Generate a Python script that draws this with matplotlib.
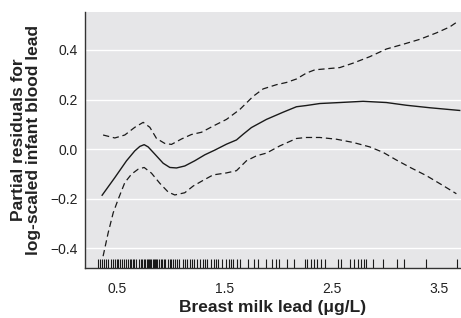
import matplotlib
matplotlib.use("Agg")
import matplotlib.pyplot as plt
import matplotlib.transforms as mtransforms

plt.rcParams['font.family'] = ['Liberation Sans Narrow', 'Liberation Sans', 'DejaVu Sans']

fit_x = [0.361, 0.479, 0.588, 0.665, 0.712, 0.752, 0.789, 0.851, 0.929, 0.991, 1.053, 1.13, 1.223, 1.316,
         1.409, 1.518, 1.611, 1.673, 1.75, 1.89, 2.045, 2.169, 2.262, 2.386, 2.572, 2.789, 3.006, 3.192,
         3.409, 3.688]
fit_y = [-0.186, -0.115, -0.047, -0.007, 0.011, 0.018, 0.009, -0.020, -0.057, -0.074, -0.076, -0.068,
         -0.047, -0.023, -0.004, 0.020, 0.037, 0.060, 0.087, 0.120, 0.149, 0.171, 0.176, 0.184, 0.188,
         0.193, 0.188, 0.177, 0.167, 0.156]

up_x = [0.37, 0.479, 0.572, 0.665, 0.743, 0.805, 0.867, 0.944, 1.006, 1.1, 1.192, 1.285, 1.394, 1.518,
        1.642, 1.766, 1.859, 1.983, 2.076, 2.169, 2.262, 2.34, 2.417, 2.572, 2.696, 2.851, 3.006, 3.161,
        3.316, 3.471, 3.595, 3.673]
up_y = [0.057, 0.045, 0.057, 0.088, 0.108, 0.088, 0.043, 0.023, 0.019, 0.041, 0.059, 0.068, 0.093, 0.120,
        0.160, 0.213, 0.243, 0.260, 0.269, 0.283, 0.307, 0.320, 0.323, 0.329, 0.347, 0.373, 0.404, 0.423,
        0.443, 0.469, 0.493, 0.516]

lo_x = [0.37, 0.417, 0.464, 0.51, 0.572, 0.634, 0.696, 0.752, 0.82, 0.898, 0.975, 1.037, 1.13, 1.208,
        1.301, 1.394, 1.518, 1.611, 1.704, 1.797, 1.89, 2.014, 2.107, 2.169, 2.262, 2.386, 2.541, 2.696,
        2.851, 2.975, 3.099, 3.223, 3.378, 3.533, 3.657]
lo_y = [-0.432, -0.338, -0.257, -0.203, -0.135, -0.101, -0.081, -0.074, -0.097, -0.138, -0.173, -0.185,
        -0.176, -0.149, -0.126, -0.104, -0.096, -0.087, -0.047, -0.027, -0.016, 0.013, 0.031, 0.043, 0.047,
        0.047, 0.040, 0.027, 0.009, -0.013, -0.044, -0.073, -0.107, -0.147, -0.180]

rug = [0.32, 0.34, 0.36, 0.38, 0.40, 0.42, 0.44, 0.46, 0.48, 0.50, 0.51, 0.53, 0.55, 0.56, 0.58,
       0.60, 0.62, 0.63, 0.65, 0.66, 0.68, 0.70, 0.72, 0.73, 0.75, 0.76, 0.78, 0.79, 0.80, 0.81,
       0.82, 0.83, 0.84, 0.85, 0.86, 0.87, 0.89, 0.91, 0.92, 0.94, 0.95, 0.97, 0.99, 1.00, 1.02,
       1.04, 1.06, 1.08, 1.11, 1.13, 1.15, 1.18, 1.20, 1.22, 1.24, 1.27, 1.30, 1.32, 1.34, 1.37,
       1.40, 1.42, 1.44, 1.48, 1.51, 1.54, 1.56, 1.58, 1.62, 1.64, 1.72, 1.77, 1.81, 1.89, 1.94,
       1.98, 2.01, 2.08, 2.15, 2.25, 2.27, 2.30, 2.33, 2.36, 2.40, 2.43, 2.56, 2.58, 2.67, 2.70,
       2.74, 2.77, 2.80, 2.82, 2.88, 2.97, 3.10, 3.17, 3.37, 3.66]

xticks = [0.5, 1.5, 2.5, 3.5]
yticks = [-0.4, -0.2, 0.0, 0.2, 0.4]

fig = plt.figure(figsize=(4.61, 3.18), dpi=100)
ax = fig.add_axes([0.184, 0.157, 0.816, 0.805])
ax.set_facecolor('#e6e6e8')

for yt in yticks:
    ax.axhline(yt, color='white', lw=1.0, zorder=1)

ax.plot(fit_x, fit_y, color='#1a1a1a', lw=1.0, zorder=3)
ax.plot(up_x, up_y, color='#1a1a1a', lw=0.9, ls=(0, (5, 3)), zorder=3)
ax.plot(lo_x, lo_y, color='#1a1a1a', lw=0.9, ls=(0, (5, 3)), zorder=3)

trans = mtransforms.blended_transform_factory(ax.transData, ax.transAxes)
ax.vlines(rug, 0, 0.035, transform=trans, color='#1a1a1a', lw=0.8, zorder=3)

ax.set_xlim(0.2, 3.7)
ax.set_ylim(-0.48, 0.553)
ax.set_xticks(xticks)
ax.set_xticklabels(['0.5', '1.5', '2.5', '3.5'])
ax.set_yticks(yticks)
ax.set_yticklabels(['\u22120.4', '\u22120.2', '0.0', '0.2', '0.4'])
ax.tick_params(axis='both', length=0, labelsize=10, colors='#222222')
ax.tick_params(axis='x', pad=10)
ax.tick_params(axis='y', pad=5)

for s in ['top', 'right']:
    ax.spines[s].set_visible(False)
for s in ['left', 'bottom']:
    ax.spines[s].set_color('#333333')
    ax.spines[s].set_linewidth(1.0)

ax.set_xlabel('Breast milk lead (\u03bcg/L)', fontsize=12.5, fontweight='bold', labelpad=3, color='#222222')
ax.set_ylabel('Partial residuals for\nlog-scaled infant blood lead', fontsize=12.5, fontweight='bold',
              labelpad=7, color='#222222', linespacing=0.95)

fig.savefig('out.png', dpi=100)
